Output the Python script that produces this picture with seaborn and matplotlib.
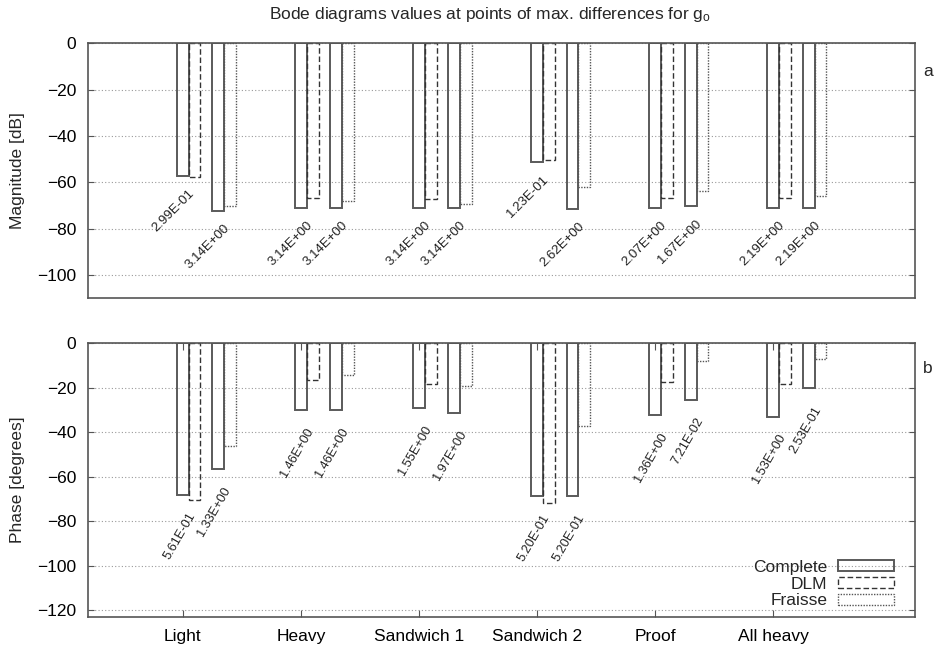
import pandas as pd
import matplotlib
matplotlib.use("Agg")
import matplotlib.pyplot as plt
from matplotlib.patches import Rectangle
import seaborn as sns

# Data
categories = ["Light", "Heavy", "Sandwich 1", "Sandwich 2", "Proof", "All heavy"]

# Magnitude [dB] at the two max-difference frequencies
mag_complete_1 = [-57.3, -71.2, -71.2, -51.3, -71.2, -71.2]
mag_dlm = [-57.8, -67.0, -67.3, -50.3, -67.0, -67.0]
mag_complete_2 = [-72.5, -71.2, -71.2, -71.6, -70.3, -71.2]
mag_fraisse = [-70.2, -68.1, -69.4, -62.1, -63.8, -65.9]
mag_freq_1 = ["2.99E-01", "3.14E+00", "3.14E+00", "1.23E-01", "2.07E+00", "2.19E+00"]
mag_freq_2 = ["3.14E+00", "3.14E+00", "3.14E+00", "2.62E+00", "1.67E+00", "2.19E+00"]

# Phase [degrees]
ph_complete_1 = [-68.1, -30.2, -29.3, -68.9, -32.4, -33.0]
ph_dlm = [-70.5, -16.5, -18.5, -71.7, -17.6, -18.3]
ph_complete_2 = [-56.6, -30.2, -31.5, -68.9, -25.5, -20.3]
ph_fraisse = [-46.2, -14.4, -19.2, -37.1, -7.8, -6.9]
ph_freq_1 = ["5.61E-01", "1.46E+00", "1.55E+00", "5.20E-01", "1.36E+00", "1.53E+00"]
ph_freq_2 = ["1.33E+00", "1.46E+00", "1.97E+00", "5.20E-01", "7.21E-02", "2.53E-01"]

sns.set_style("ticks")
plt.rcParams["font.family"] = ["Liberation Sans", "DejaVu Sans"]
plt.rcParams["mathtext.default"] = "regular"

FS = 12.5

# bar layout inside each category group
offsets = {"Complete 1": 0.0, "DLM": 0.1, "Complete 2": 0.3, "Fraisse": 0.4}
styles = {
    "Complete": dict(linestyle="-", edgecolor="#5a5a5a", linewidth=1.4),
    "DLM": dict(linestyle=(0, (4, 2)), edgecolor="#333333", linewidth=1.0),
    "Fraisse": dict(linestyle=(0, (1, 1)), edgecolor="#555555", linewidth=1.0),
}


def make_frame(c1, dlm, c2, fra):
    rows = []
    for series, vals in [("Complete 1", c1), ("DLM", dlm), ("Complete 2", c2), ("Fraisse", fra)]:
        for i, v in enumerate(vals):
            rows.append({"pos": i + offsets[series], "value": v, "series": series})
    return pd.DataFrame(rows)


def draw_panel(ax, df, freq_1, freq_2, c1, c2, rot, label_offset, label_fs):
    for series in ["Complete 1", "Complete 2", "DLM", "Fraisse"]:
        sub = df[df["series"] == series]
        n_before = len(ax.patches)
        sns.barplot(data=sub, x="pos", y="value", native_scale=True, width=0.1,
                    fill=False, errorbar=None, ax=ax)
        st = styles[series.split(" ")[0]]
        for p in ax.patches[n_before:]:
            p.set_facecolor("none")
            p.set_edgecolor(st["edgecolor"])
            p.set_linestyle(st["linestyle"])
            p.set_linewidth(st["linewidth"])
    for i in range(len(categories)):
        for x, v, txt in [(i, c1[i], freq_1[i]), (i + 0.3, c2[i], freq_2[i])]:
            ax.annotate(txt, xy=(x, v), xytext=label_offset, textcoords="offset points",
                        rotation=rot, rotation_mode="anchor", ha="right", va="center",
                        fontsize=label_fs, color="#222222")
    ax.set_xlim(-0.8, 6.2)
    ax.set_xlabel("")
    ax.yaxis.grid(True, linestyle=(0, (1, 2)), color="#9a9a9a", linewidth=0.8)
    ax.xaxis.grid(False)
    for s in ax.spines.values():
        s.set_visible(True)
        s.set_color("#555555")
        s.set_linewidth(1.2)
    ax.tick_params(axis="y", direction="in", left=True, right=True, length=4,
                   labelsize=FS, pad=8.5, colors="#555555", labelcolor="black")


fig = plt.figure(figsize=(9.36, 6.49), dpi=100)
ax1 = fig.add_axes([0.0943, 0.5408, 0.8833, 0.3925])
ax2 = fig.add_axes([0.0943, 0.0498, 0.8833, 0.4212])

mag_df = make_frame(mag_complete_1, mag_dlm, mag_complete_2, mag_fraisse)
ph_df = make_frame(ph_complete_1, ph_dlm, ph_complete_2, ph_fraisse)

draw_panel(ax1, mag_df, mag_freq_1, mag_freq_2, mag_complete_1, mag_complete_2, 45, (7, -11), 9.5)
draw_panel(ax2, ph_df, ph_freq_1, ph_freq_2, ph_complete_1, ph_complete_2, 60, (7, -13.5), 9.2)

ax1.set_ylim(-110, 0)
ax1.set_yticks(range(0, -101, -20))
ax1.set_xticks([])
ax1.set_ylabel("Magnitude [dB]", fontsize=FS)
ax1.yaxis.set_label_coords(-0.0766, 0.5)
ax1.text(1.0157, 0.891, "a", transform=ax1.transAxes, ha="center", va="center", fontsize=FS)

ax2.set_ylim(-123, 0)
ax2.set_yticks(range(0, -121, -20))
ax2.set_xticks(range(len(categories)))
ax2.set_xticklabels(categories)
ax2.tick_params(axis="x", direction="in", top=True, bottom=True, length=5,
                labelsize=FS, pad=9, colors="#555555", labelcolor="black")
ax2.set_ylabel("Phase [degrees]", fontsize=FS)
ax2.yaxis.set_label_coords(-0.0766, 0.5)
ax2.text(1.0157, 0.9097, "b", transform=ax2.transAxes, ha="center", va="center", fontsize=FS)

handles = [Rectangle((0, 0), 1, 1, fill=False, **styles[k]) for k in ["Complete", "DLM", "Fraisse"]]
ax2.legend(handles, ["Complete", "DLM", "Fraisse"], loc="lower right",
           bbox_to_anchor=(0.9746, 0.03), markerfirst=False, frameon=False,
           fontsize=FS, handlelength=3.2, handleheight=0.6, labelspacing=0.1,
           handletextpad=0.65, borderaxespad=0, borderpad=0)

fig.text(490 / 936, 1 - 14 / 649, "Bode diagrams values at points of max. differences for g$_{o}$",
         ha="center", va="center", fontsize=FS)

fig.savefig("out.png", dpi=100)
